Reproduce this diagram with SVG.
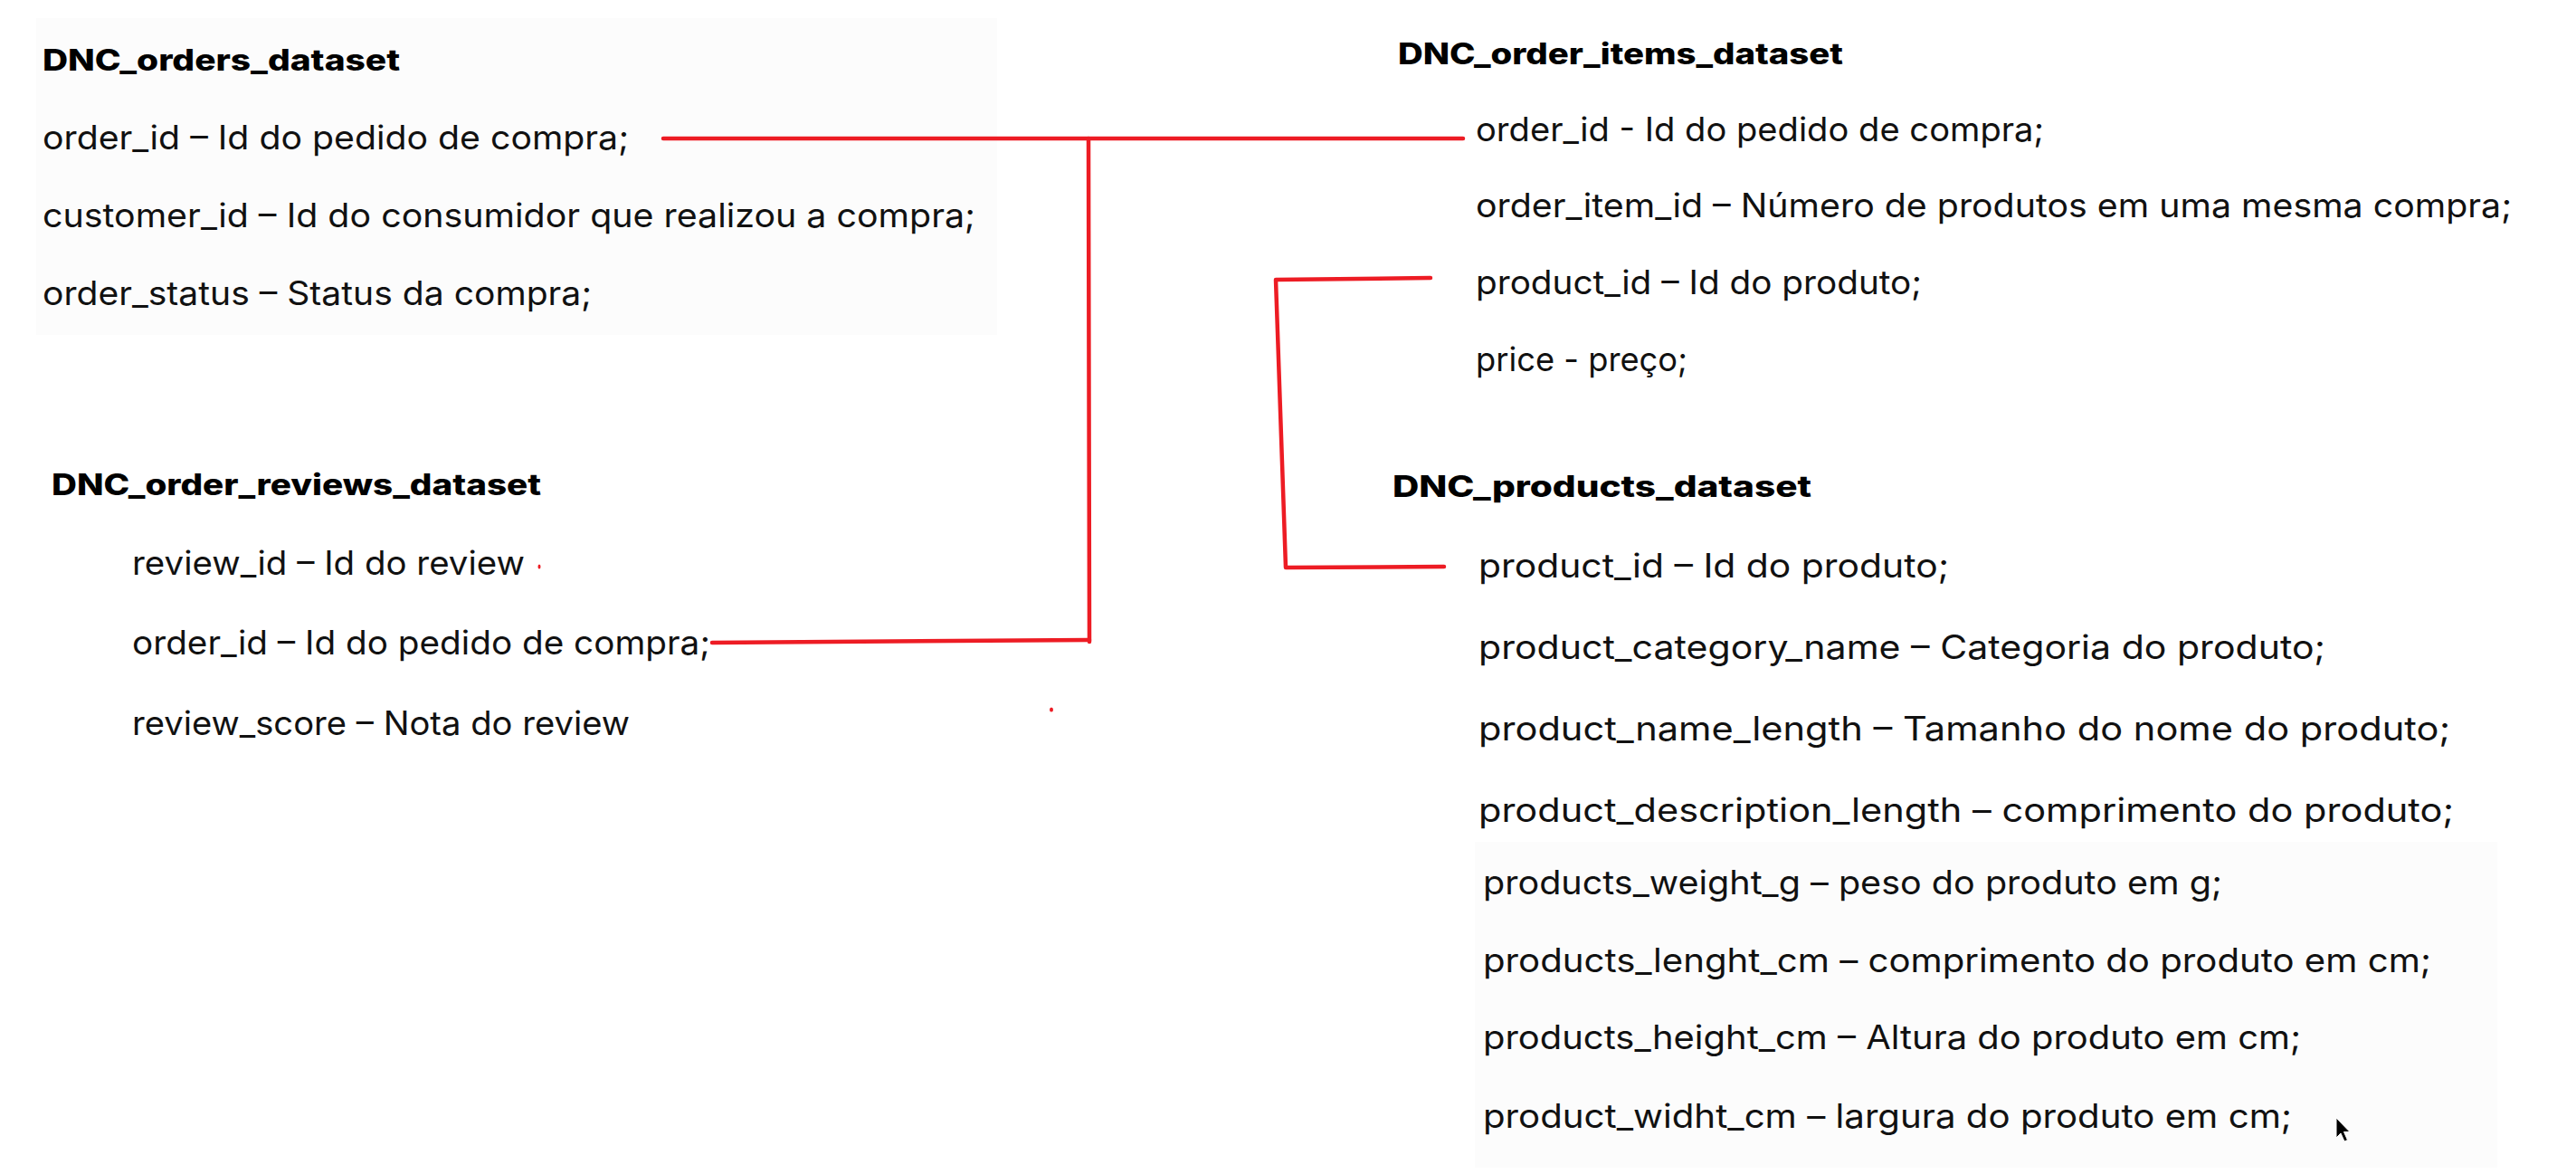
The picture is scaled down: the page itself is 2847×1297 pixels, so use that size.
<svg xmlns="http://www.w3.org/2000/svg" width="2847" height="1297" viewBox="0 0 2847 1297">
<style>
.t{font-family:Inter,"Open Sans","Liberation Sans",sans-serif;font-size:37px;fill:#111;}
.h{font-family:Inter,"Open Sans","Liberation Sans",sans-serif;font-size:32px;font-weight:800;fill:#000;}
.c{fill:none;stroke:#ed1c24;stroke-width:4.5;stroke-linecap:round;stroke-linejoin:round;}
.bg{fill:#fcfcfc;}
</style>
<rect width="2847" height="1297" fill="#ffffff"/>
<rect class="bg" x="40" y="20" width="1062" height="350"/>
<rect class="bg" x="1630" y="930" width="1130" height="360"/>
<g id="orders">
<text class="h" x="47" y="78" textLength="395" lengthAdjust="spacingAndGlyphs">DNC_orders_dataset</text>
<text class="t" x="47" y="165" textLength="648" lengthAdjust="spacingAndGlyphs">order_id – Id do pedido de compra;</text>
<text class="t" x="47" y="251" textLength="1031" lengthAdjust="spacingAndGlyphs">customer_id – Id do consumidor que realizou a compra;</text>
<text class="t" x="47" y="337" textLength="607" lengthAdjust="spacingAndGlyphs">order_status – Status da compra;</text>
</g>
<g id="order_items">
<text class="h" x="1545" y="71" textLength="492" lengthAdjust="spacingAndGlyphs">DNC_order_items_dataset</text>
<text class="t" x="1631" y="156" textLength="628" lengthAdjust="spacingAndGlyphs">order_id - Id do pedido de compra;</text>
<text class="t" x="1631" y="240" textLength="1145" lengthAdjust="spacingAndGlyphs">order_item_id – Número de produtos em uma mesma compra;</text>
<text class="t" x="1631" y="325" textLength="493" lengthAdjust="spacingAndGlyphs">product_id – Id do produto;</text>
<text class="t" x="1631" y="410" textLength="234" lengthAdjust="spacingAndGlyphs">price - preço;</text>
</g>
<g id="order_reviews">
<text class="h" x="57" y="547" textLength="541" lengthAdjust="spacingAndGlyphs">DNC_order_reviews_dataset</text>
<text class="t" x="146" y="635" textLength="434" lengthAdjust="spacingAndGlyphs">review_id – Id do review</text>
<text class="t" x="146" y="723" textLength="639" lengthAdjust="spacingAndGlyphs">order_id – Id do pedido de compra;</text>
<text class="t" x="146" y="812" textLength="550" lengthAdjust="spacingAndGlyphs">review_score – Nota do review</text>
</g>
<g id="products">
<text class="h" x="1539" y="549" textLength="463" lengthAdjust="spacingAndGlyphs">DNC_products_dataset</text>
<text class="t" x="1634" y="638" textLength="520" lengthAdjust="spacingAndGlyphs">product_id – Id do produto;</text>
<text class="t" x="1634" y="728" textLength="936" lengthAdjust="spacingAndGlyphs">product_category_name – Categoria do produto;</text>
<text class="t" x="1634" y="818" textLength="1074" lengthAdjust="spacingAndGlyphs">product_name_length – Tamanho do nome do produto;</text>
<text class="t" x="1634" y="908" textLength="1078" lengthAdjust="spacingAndGlyphs">product_description_length – comprimento do produto;</text>
<text class="t" x="1639" y="988" textLength="817" lengthAdjust="spacingAndGlyphs">products_weight_g – peso do produto em g;</text>
<text class="t" x="1639" y="1074" textLength="1048" lengthAdjust="spacingAndGlyphs">products_lenght_cm – comprimento do produto em cm;</text>
<text class="t" x="1639" y="1159" textLength="904" lengthAdjust="spacingAndGlyphs">products_height_cm – Altura do produto em cm;</text>
<text class="t" x="1639" y="1246" textLength="894" lengthAdjust="spacingAndGlyphs">product_widht_cm – largura do produto em cm;</text>
</g>
<g id="connectors">
<path class="c" d="M733,153 L1617,153"/>
<path class="c" d="M1203,153 L1204,709"/>
<path class="c" d="M787,710 L1204,707"/>
<path class="c" d="M1581,307 L1410,309 L1421,627 L1596,626"/>
<ellipse cx="596" cy="626" rx="1.5" ry="2.5" fill="#ed1c24"/>
<ellipse cx="1162" cy="784" rx="2" ry="2.5" fill="#ed1c24"/>
</g>
<path d="M2582,1235 L2582,1257 L2587,1252 L2591,1261 L2594.5,1259.5 L2590.5,1250.5 L2597,1250.5 Z" fill="#000" stroke="#fff" stroke-width="1"/>
</svg>
